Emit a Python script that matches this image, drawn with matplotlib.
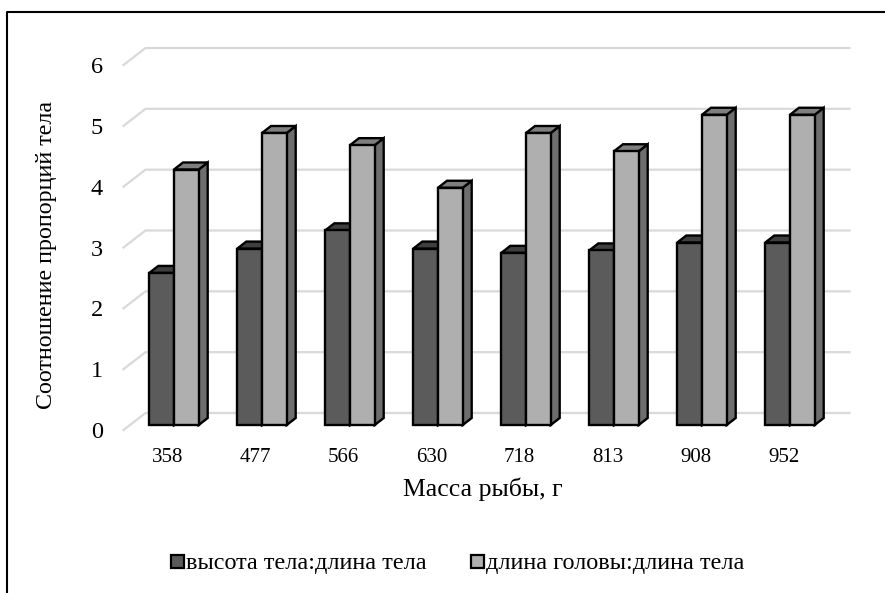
import matplotlib
matplotlib.use("Agg")
import matplotlib.pyplot as plt
from matplotlib.patches import Polygon, Rectangle

plt.rcParams['font.family'] = ['Liberation Serif', 'DejaVu Serif']

masses = ['358', '477', '566', '630', '718', '813', '908', '952']
height_ratio = [2.5, 2.9, 3.2, 2.9, 2.83, 2.87, 3.0, 3.0]
head_ratio = [4.2, 4.8, 4.6, 3.9, 4.8, 4.5, 5.1, 5.1]
y_ticks = [0, 1, 2, 3, 4, 5, 6]

W, H = 885, 593
fig = plt.figure(figsize=(W / 100, H / 100), dpi=100)

# axes box = front plane of the fake 3d chart, in pixels
left, right, top, bottom = 123.5, 827.5, 65, 430
ax = fig.add_axes([left / W, 1 - bottom / H, (right - left) / W, (bottom - top) / H])
ax.set_xlim(-0.5, len(masses) - 0.5)
ax.set_ylim(0, 6)
ax.patch.set_visible(False)
for s in ax.spines.values():
    s.set_visible(False)

px_x = (len(masses)) / (right - left)
px_y = 6 / (bottom - top)

# gridlines with the slanted part on the wall
wall_dx, wall_dy = 22 * px_x, 17 * px_y
for t in y_ticks:
    ax.plot([-0.5, -0.5 + wall_dx, 7.5 + wall_dx], [t, t + wall_dy, t + wall_dy],
            color='#d9d9d9', lw=1.6, clip_on=False, zorder=1, solid_joinstyle='miter')

bar_w = 24.7 * px_x
depth_x, depth_y = 9 * px_x, 7 * px_y
inset_x, inset_y = 6.5 * px_x, 5 * px_y


def draw_bar(x0, val, front, side, roof):
    # x0 is the left of the front face
    x0 = x0 + inset_x
    x1 = x0 + bar_w
    y0 = inset_y
    y1 = val + inset_y
    style = dict(edgecolor='black', lw=1.7, joinstyle='miter', clip_on=False, zorder=3)
    ax.add_patch(Polygon([(x1, y0), (x1 + depth_x, y0 + depth_y), (x1 + depth_x, y1 + depth_y), (x1, y1)],
                         facecolor=side, **style))
    ax.add_patch(Polygon([(x0, y1), (x0 + depth_x, y1 + depth_y), (x1 + depth_x, y1 + depth_y), (x1, y1)],
                         facecolor=roof, **style))
    ax.add_patch(Rectangle((x0, y0), bar_w, val, facecolor=front, **style))


for i in range(len(masses)):
    # dark bar first so the light one sits over its side face
    draw_bar(i - bar_w, height_ratio[i], '#5b5b5b', '#474747', '#3f3f3f')
    draw_bar(i, head_ratio[i], '#afafaf', '#6e6e6e', '#7f7f7f')

ax.set_xticks(range(len(masses)))
ax.set_xticklabels(masses, fontsize=15)
ax.set_yticks(y_ticks)
ax.tick_params(axis='both', length=0)
ax.tick_params(axis='x', pad=13)
ax.tick_params(axis='y', labelsize=17.5, pad=15)

fig.text(483 / W, 1 - 489 / H, 'Масса рыбы, г', fontsize=18.5, ha='center', va='center')
fig.text(47 / W, 1 - 255 / H, 'Соотношение пропорций тела', fontsize=17.3, rotation=90,
         ha='center', va='center')

# legend
for x, col, label in [(171, '#5b5b5b', 'высота тела:длина тела'),
                      (471, '#afafaf', 'длина головы:длина тела')]:
    fig.add_artist(Rectangle((x / W, 1 - 567.5 / H), 13 / W, 13 / H, transform=fig.transFigure,
                             facecolor=col, edgecolor='black', lw=1.6))
    fig.text((x + 15) / W, 1 - 563 / H, label, fontsize=17.5, ha='left', va='center')

# outer frame, runs off the bottom and right of the image
fig.add_artist(plt.Line2D([6.5 / W, 6.5 / W, 1],
                          [0, 1 - 11.5 / H, 1 - 11.5 / H], color='black', lw=1.5))

fig.savefig('out.png', dpi=100)
